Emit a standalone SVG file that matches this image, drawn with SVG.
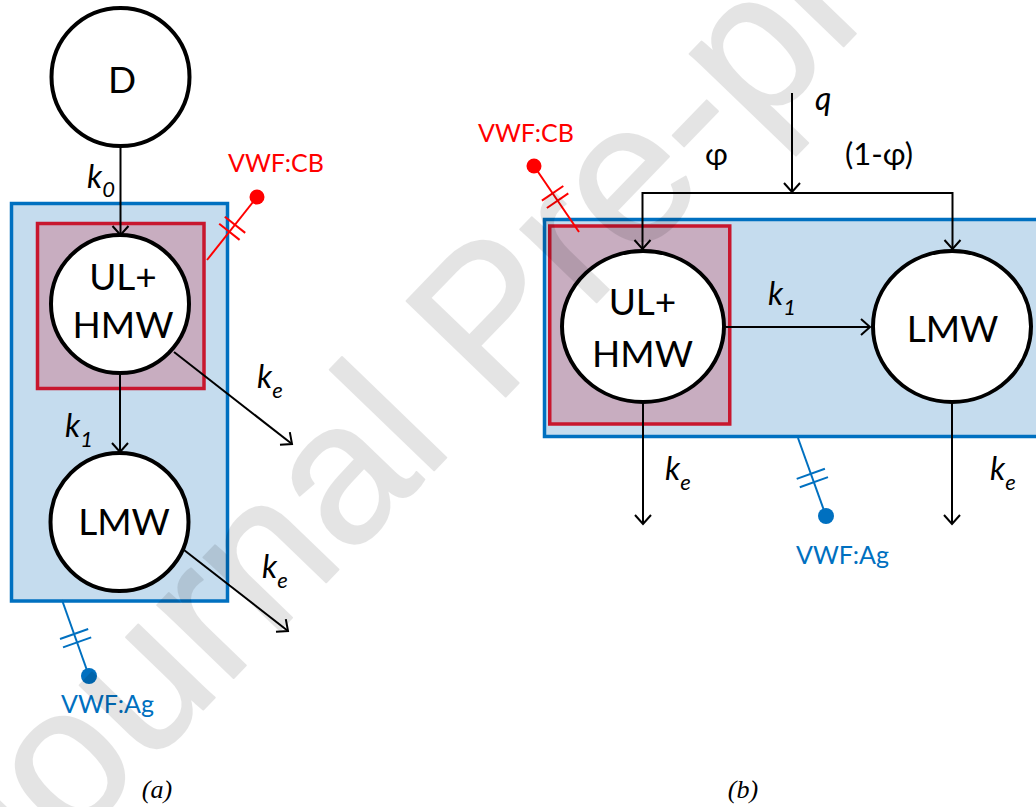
<svg xmlns="http://www.w3.org/2000/svg" width="1036" height="807" viewBox="0 0 1036 807">
<defs>
<marker id="arr" markerUnits="userSpaceOnUse" viewBox="-12 -10 14 20" refX="0" refY="0" markerWidth="14" markerHeight="20" orient="auto">
<path d="M-9,-8 L0,0 L-9,8" fill="none" stroke="#000" stroke-width="2"/>
</marker>
</defs>
<style>
.node{fill:#fff;stroke:#000;stroke-width:4}
.lbl{font-family:Lato,"Open Sans","DejaVu Sans",sans-serif;font-size:37px;fill:#000;text-anchor:middle}
.k{font-family:Lato,"Open Sans","DejaVu Sans",sans-serif;font-size:32px;font-style:italic;fill:#000}
.sub{font-size:22px}
.g{font-family:Lato,"Open Sans","DejaVu Sans",sans-serif;font-size:31px;fill:#000}
.con{stroke:#000;stroke-width:2;fill:none}
.arr{marker-end:url(#arr)}
.comp{fill:#c5dcee;stroke:#0070c0;stroke-width:3.5}
.inner{fill:#c8adc0;stroke:#c8172e;stroke-width:3.5}
.red{stroke:#ff0000;stroke-width:2;fill:none}
.blue{stroke:#0070c0;stroke-width:2;fill:none}
.tred{font-family:Lato,"Open Sans",sans-serif;font-size:25px;fill:#ff0000}
.tblue{font-family:Lato,"Open Sans",sans-serif;font-size:25px;fill:#0070c0}
.cap{font-family:"Liberation Serif",serif;font-size:26px;font-style:italic;fill:#000;text-anchor:middle}
</style>

<!-- Panel (a) compartments -->
<g id="a-central"><rect class="comp" x="11.5" y="203.5" width="216" height="397.5"/></g>
<g id="a-hmw-compartment"><rect class="inner" x="37.5" y="223.5" width="166.5" height="165"/></g>

<!-- Panel (b) compartments -->
<g id="b-central"><rect class="comp" x="544.5" y="219.5" width="520" height="217"/></g>
<g id="b-hmw-compartment"><rect class="inner" x="549.75" y="226" width="180" height="198"/></g>

<!-- connectors -->
<g id="connectors">
<line class="con arr" x1="120.5" y1="148" x2="120.5" y2="235"/>
<line class="con arr" x1="120" y1="375" x2="120" y2="452"/>
<line class="con arr" x1="174" y1="352" x2="292" y2="444"/>
<line class="con arr" x1="184" y1="550" x2="288" y2="631"/>
<line class="con arr" x1="726" y1="327" x2="870" y2="327"/>
<line class="con arr" x1="792" y1="93" x2="792" y2="192"/>
<line class="con" x1="642.5" y1="193" x2="952.5" y2="193"/>
<line class="con arr" x1="642.5" y1="192" x2="642.5" y2="249"/>
<line class="con arr" x1="952.5" y1="192" x2="952.5" y2="249"/>
<line class="con arr" x1="643" y1="404" x2="643" y2="524"/>
<line class="con arr" x1="952" y1="404" x2="952" y2="524"/>
</g>

<!-- nodes panel (a) -->
<g id="a-D"><circle class="node" cx="120.5" cy="77" r="69"/><text class="lbl" x="122" y="93">D</text></g>
<g id="a-ULHMW"><circle class="node" cx="120" cy="304" r="69"/><text class="lbl" x="123" y="290">UL+</text><text class="lbl" x="123" y="338">HMW</text></g>
<g id="a-LMW"><circle class="node" cx="119.5" cy="522" r="69"/><text class="lbl" x="124" y="535">LMW</text></g>

<!-- nodes panel (b) -->
<g id="b-ULHMW"><ellipse class="node" cx="643" cy="326.5" rx="81" ry="75.5"/><text class="lbl" x="642.5" y="315">UL+</text><text class="lbl" x="642.5" y="367">HMW</text></g>
<g id="b-LMW"><ellipse class="node" cx="952" cy="326.5" rx="79" ry="75.5"/><text class="lbl" x="952.5" y="342">LMW</text></g>

<!-- rate labels -->
<g id="labels">
<text class="k" x="87" y="188">k<tspan class="sub" dy="9">0</tspan></text>
<text class="k" x="65" y="437">k<tspan class="sub" dy="10">1</tspan></text>
<text class="k" x="257" y="388">k<tspan class="sub" dy="10">e</tspan></text>
<text class="k" x="262" y="578">k<tspan class="sub" dy="10">e</tspan></text>
<text class="k" x="768" y="305">k<tspan class="sub" dy="10">1</tspan></text>
<text class="k" x="665" y="480">k<tspan class="sub" dy="10">e</tspan></text>
<text class="k" x="990" y="480">k<tspan class="sub" dy="10">e</tspan></text>
<text class="k" x="815" y="110">q</text>
<text class="g" x="705" y="165">φ</text>
<text class="g" x="845" y="165">(1-φ)</text>
</g>

<!-- measurement markers -->
<g id="a-VWFCB">
<line class="red" x1="207" y1="260" x2="257" y2="197"/>
<line class="red" x1="219.2" y1="223.7" x2="239.6" y2="239.9"/>
<line class="red" x1="224.8" y1="216.7" x2="245.2" y2="232.9"/>
<circle cx="257" cy="197" r="7.5" fill="#ff0000"/>
<text class="tred" x="228" y="172">VWF:CB</text>
</g>
<g id="b-VWFCB">
<line class="red" x1="534" y1="166" x2="579" y2="232"/>
<line class="red" x1="541.9" y1="200.6" x2="563.3" y2="186"/>
<line class="red" x1="546.9" y1="208" x2="568.3" y2="193.4"/>
<circle cx="534" cy="166" r="7.5" fill="#ff0000"/>
<text class="tred" x="478" y="142">VWF:CB</text>
</g>
<g id="a-VWFAg">
<line class="blue" x1="62" y1="600" x2="89" y2="676"/>
<line class="blue" x1="60" y1="639" x2="88.2" y2="629"/>
<line class="blue" x1="63" y1="647.4" x2="91.2" y2="637.4"/>
<circle cx="89" cy="676" r="8" fill="#0070c0"/>
<text class="tblue" x="61" y="713">VWF:Ag</text>
</g>
<g id="b-VWFAg">
<line class="blue" x1="798" y1="438" x2="826" y2="516"/>
<line class="blue" x1="796.7" y1="478.9" x2="824.9" y2="468.7"/>
<line class="blue" x1="799.8" y1="487.3" x2="828" y2="477.1"/>
<circle cx="826" cy="516" r="8" fill="#0070c0"/>
<text class="tblue" x="796" y="564">VWF:Ag</text>
</g>

<!-- captions -->
<text class="cap" x="157" y="798">(a)</text>
<text class="cap" x="743" y="798">(b)</text>

<!-- watermark -->
<g opacity="0.1">
<text transform="translate(0,920) rotate(-46)" font-family="Liberation Sans, sans-serif" font-size="200" fill="#000" stroke="#000" stroke-width="2" stroke-linejoin="round">Journal Pre-proof</text>
</g>
</svg>
